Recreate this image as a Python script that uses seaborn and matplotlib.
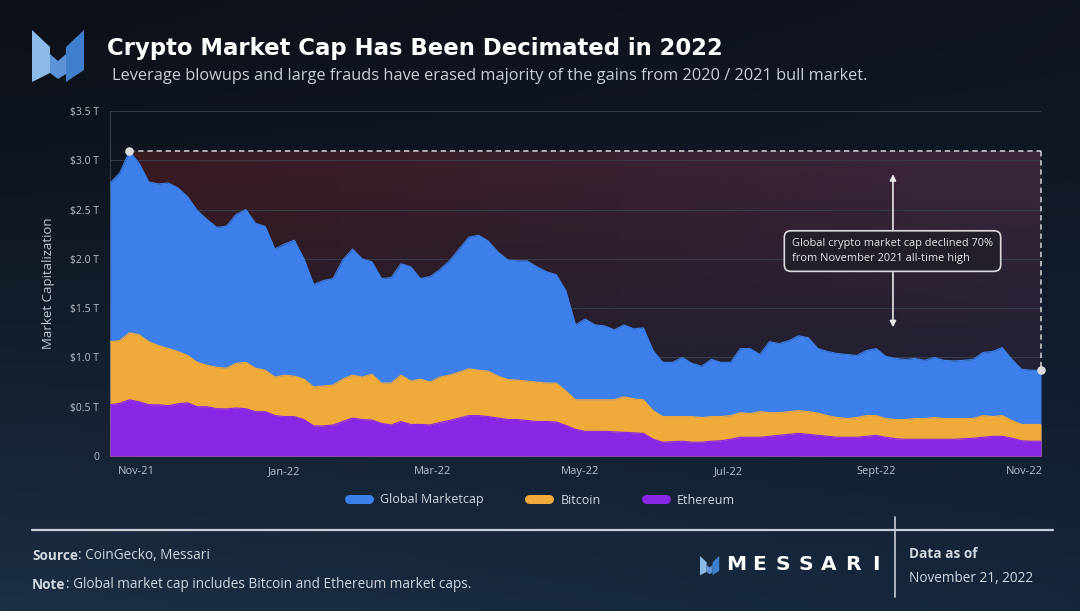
import numpy as np
import pandas as pd
import matplotlib
matplotlib.use("Agg")
import matplotlib.pyplot as plt
import matplotlib.dates as mdates
from matplotlib.patches import Polygon
from matplotlib.lines import Line2D
import seaborn as sns

# ---------------- data (trillions USD, every 4 days from 2021-11-01) ----------------
start_date = "2021-11-01"
global_cap = [2.77, 2.87, 3.09, 2.97, 2.78, 2.76, 2.77, 2.72, 2.63, 2.49,
              2.40, 2.32, 2.33, 2.45, 2.50, 2.36, 2.33, 2.10, 2.15, 2.19,
              2.00, 1.74, 1.78, 1.80, 1.99, 2.10, 2.00, 1.97, 1.80, 1.81,
              1.95, 1.92, 1.80, 1.82, 1.89, 1.98, 2.10, 2.22, 2.24, 2.18,
              2.07, 1.99, 1.98, 1.98, 1.92, 1.87, 1.84, 1.68, 1.33, 1.39,
              1.33, 1.32, 1.28, 1.33, 1.29, 1.30, 1.07, 0.95, 0.95, 1.00,
              0.94, 0.91, 0.98, 0.95, 0.95, 1.09, 1.09, 1.03, 1.16, 1.14,
              1.17, 1.22, 1.20, 1.09, 1.06, 1.04, 1.03, 1.02, 1.07, 1.09,
              1.01, 0.99, 0.98, 0.99, 0.97, 1.00, 0.97, 0.965, 0.97, 0.98,
              1.05, 1.06, 1.10, 0.98, 0.88, 0.87, 0.87]
bitcoin = [1.16, 1.17, 1.25, 1.23, 1.16, 1.12, 1.09, 1.06, 1.02, 0.95,
           0.92, 0.90, 0.89, 0.94, 0.95, 0.89, 0.87, 0.80, 0.82, 0.81,
           0.78, 0.70, 0.71, 0.72, 0.78, 0.82, 0.80, 0.83, 0.74, 0.74,
           0.82, 0.76, 0.78, 0.75, 0.80, 0.82, 0.85, 0.885, 0.87, 0.86,
           0.81, 0.775, 0.77, 0.76, 0.75, 0.74, 0.74, 0.66, 0.57, 0.57,
           0.57, 0.57, 0.57, 0.60, 0.58, 0.57, 0.46, 0.40, 0.40, 0.40,
           0.40, 0.39, 0.40, 0.40, 0.41, 0.44, 0.43, 0.45, 0.44, 0.44,
           0.45, 0.46, 0.45, 0.435, 0.41, 0.39, 0.38, 0.39, 0.41, 0.41,
           0.38, 0.37, 0.37, 0.38, 0.38, 0.39, 0.38, 0.38, 0.38, 0.38,
           0.41, 0.40, 0.41, 0.36, 0.32, 0.32, 0.32]
ethereum = [0.52, 0.535, 0.57, 0.55, 0.52, 0.52, 0.51, 0.53, 0.54, 0.50,
            0.50, 0.48, 0.478, 0.487, 0.48, 0.45, 0.45, 0.41, 0.40, 0.40,
            0.37, 0.305, 0.305, 0.315, 0.35, 0.385, 0.37, 0.365, 0.33, 0.315,
            0.35, 0.32, 0.32, 0.315, 0.34, 0.36, 0.385, 0.41, 0.41, 0.40,
            0.385, 0.37, 0.37, 0.36, 0.35, 0.35, 0.345, 0.31, 0.27, 0.25,
            0.25, 0.25, 0.245, 0.24, 0.235, 0.23, 0.17, 0.14, 0.145, 0.15,
            0.14, 0.14, 0.15, 0.155, 0.17, 0.19, 0.19, 0.19, 0.20, 0.21,
            0.22, 0.23, 0.22, 0.21, 0.20, 0.19, 0.19, 0.19, 0.20, 0.21,
            0.19, 0.175, 0.17, 0.17, 0.17, 0.17, 0.17, 0.17, 0.175, 0.18,
            0.19, 0.20, 0.20, 0.18, 0.155, 0.15, 0.15]
series_names = ["Global Marketcap", "Bitcoin", "Ethereum"]
ytick_values = [0, 0.5, 1.0, 1.5, 2.0, 2.5, 3.0, 3.5]
ytick_labels = ["0", "$0.5 T", "$1.0 T", "$1.5 T", "$2.0 T", "$2.5 T", "$3.0 T", "$3.5 T"]
xtick_dates = ["2021-11-12", "2022-01-12", "2022-03-14", "2022-05-14",
               "2022-07-14", "2022-09-13", "2022-11-13"]
xtick_labels = ["Nov-21", "Jan-22", "Mar-22", "May-22", "Jul-22", "Sept-22", "Nov-22"]

dates = pd.date_range(start_date, periods=len(global_cap), freq="4D")
df = pd.DataFrame({"date": dates, "global": global_cap, "btc": bitcoin, "eth": ethereum})

# ---------------- style ----------------
sns.set_theme(style="dark")
plt.rcParams["font.family"] = ["Open Sans", "DejaVu Sans"]

BLUE = "#3d80eb"
ORANGE = "#f0aa3a"
PURPLE = "#8a26e6"
TXT = "#b9bec8"

W, H = 1080, 611
fig = plt.figure(figsize=(W / 100, H / 100), dpi=100)


def fx(x):
    return x / W


def fy(y):
    return 1 - y / H


# background gradient
bg = fig.add_axes([0, 0, 1, 1], zorder=-10)
gy, gx = np.mgrid[0:1:200j, 0:1:300j]
tl = np.array([0x0c, 0x10, 0x18]) / 255
tr = np.array([0x10, 0x15, 0x21]) / 255
bl = np.array([0x1c, 0x2f, 0x45]) / 255
br = np.array([0x15, 0x26, 0x3c]) / 255
wy = (gy ** 1.3)[..., None]
wx = gx[..., None]
img = (tl * (1 - wx) + tr * wx) * (1 - wy) + (bl * (1 - wx) + br * wx) * wy
bg.imshow(img, aspect="auto", extent=[0, 1, 0, 1], origin="upper")
bg.set_axis_off()

# main axes
ax = fig.add_axes([fx(110), fy(456), fx(1041) - fx(110), fy(111) - fy(456)])
ax.set_facecolor("none")

ath_i = int(np.argmax(df["global"].values))
ath_val = df["global"].iloc[ath_i]
ath_date = df["date"].iloc[ath_i]
end_date = df["date"].iloc[-1]
end_val = df["global"].iloc[-1]

# reddish gradient shading between ATH and current
ny, nx = 200, 300
yy, xx = np.mgrid[0:1:complex(0, ny), 0:1:complex(0, nx)]
left_c = np.array([0x3c, 0x1b, 0x22]) / 255
right_c = np.array([0x3c, 0x28, 0x3e]) / 255
rgb = left_c * (1 - xx[..., None]) + right_c * xx[..., None]
alpha = np.clip(0.25 + 0.75 * yy ** 1.3, 0, 1)
rgba = np.dstack([rgb, alpha])
ax.imshow(rgba, origin="lower", aspect="auto", zorder=0.2,
          extent=[mdates.date2num(ath_date), mdates.date2num(end_date), 0, ath_val])

# areas
for col, color, z in [("global", BLUE, 2), ("btc", ORANGE, 3), ("eth", PURPLE, 4)]:
    ax.fill_between(df["date"], df[col], color=color, lw=0, zorder=z)
    sns.lineplot(data=df, x="date", y=col, color=color, lw=0.8, ax=ax, zorder=z + 0.1)

# ATH markers
ax.plot([ath_date, end_date], [ath_val, ath_val], ls=(0, (3.5, 2.5)), color="#d6d6d6",
        lw=1.1, zorder=6, clip_on=False)
ax.plot([end_date, end_date], [ath_val, end_val], ls=(0, (3.5, 2.5)), color="#d6d6d6",
        lw=1.1, zorder=6, clip_on=False)
ax.scatter([ath_date, end_date], [ath_val, end_val], s=38, color="#dcdcdc", zorder=7,
           clip_on=False, linewidths=0)

# axes
ax.set_xlim(df["date"].iloc[0], end_date)
ax.set_ylim(0, 3.5)
ax.set_yticks(ytick_values)
ax.set_yticklabels(ytick_labels)
ax.set_xticks(pd.to_datetime(xtick_dates))
ax.set_xticklabels(xtick_labels)
ax.tick_params(axis="both", colors=TXT, labelsize=7.5, length=0)
ax.tick_params(axis="y", pad=8)
ax.tick_params(axis="x", pad=7, labelsize=8)
ax.set_axisbelow(True)
ax.yaxis.grid(True, color="#363c4a", lw=0.8)
ax.xaxis.grid(False)
for s in ["top", "right", "bottom"]:
    ax.spines[s].set_visible(False)
ax.spines["left"].set_color("#363c4a")
ax.spines["left"].set_linewidth(0.8)
ax.spines["left"].set_zorder(0.5)
ax.set_xlabel("")
ax.set_ylabel("Market Capitalization", color="#c3c7cf", fontsize=9.5, labelpad=11)

# annotation
ax.annotate("", xy=(0.841, 0.825), xytext=(0.841, 0.594), xycoords="axes fraction",
            arrowprops=dict(arrowstyle="-|>", color="#e6e6e6", lw=1.2, mutation_scale=9),
            zorder=6)
ax.annotate("", xy=(0.841, 0.365), xytext=(0.841, 0.594), xycoords="axes fraction",
            arrowprops=dict(arrowstyle="-|>", color="#e6e6e6", lw=1.2, mutation_scale=9),
            zorder=6)
ax.text(0.8405, 0.594, "Global crypto market cap declined 70%\nfrom November 2021 all-time high",
        transform=ax.transAxes, ha="center", va="center", multialignment="left",
        fontsize=7.9, color="#e8e8e8", linespacing=1.4, zorder=8,
        bbox=dict(boxstyle="round,pad=0.7,rounding_size=0.6", fc="#231e28",
                  ec="#dcdcdc", lw=1.2))

# legend
handles = [Line2D([0], [0], color=c, lw=6.5, solid_capstyle="round")
           for c in (BLUE, ORANGE, PURPLE)]
fig.legend(handles, series_names, loc="center", bbox_to_anchor=(fx(542), fy(500)),
           ncol=3, frameon=False, fontsize=9, labelcolor="#d3d7de",
           handlelength=1.6, handletextpad=0.9, columnspacing=3.6)

# title & subtitle
fig.text(fx(107), fy(55), "Crypto Market Cap Has Been Decimated in 2022", fontsize=16.4,
         fontweight="bold", color="white", va="baseline", family=["DejaVu Sans"])
fig.text(fx(112), fy(80),
         "Leverage blowups and large frauds have erased majority of the gains from 2020 / 2021 bull market.",
         fontsize=11.8, color="#c9cdd5", va="baseline")


# logos
def logo(x0, y0, s):
    pieces = [
        ([(0, 0), (18, 17), (18, 43), (0, 52)], "#8cbbe8"),
        ([(18, 24), (26, 31), (34, 24), (34, 44), (26, 49), (18, 43)], "#5b93d6"),
        ([(52, 0), (52, 40), (34, 52), (34, 17)], "#3f7fcc"),
    ]
    for pts, c in pieces:
        xy = [(fx(x0 + px * s), fy(y0 + py * s)) for px, py in pts]
        fig.add_artist(Polygon(xy, closed=True, fc=c, ec="none",
                               transform=fig.transFigure))


logo(32, 30, 1.0)
logo(700, 556, 0.37)

# footer
fig.add_artist(Line2D([fx(32), fx(1053)], [fy(530), fy(530)], color="#c9ced6", lw=1.6,
                      transform=fig.transFigure))
fig.add_artist(Line2D([fx(895), fx(895)], [fy(517), fy(597)], color="#c9ced6", lw=1.2,
                      transform=fig.transFigure))
FT = "#d3d7de"
FS = 9.8
t1 = fig.text(fx(32), fy(563), "Source", fontsize=FS, fontweight="bold", color=FT, va="bottom")
ax.annotate(": CoinGecko, Messari", xy=(1, 0), xycoords=t1, va="bottom", ha="left",
            fontsize=FS, color=FT)
t2 = fig.text(fx(32), fy(592), "Note", fontsize=FS, fontweight="bold", color=FT, va="bottom")
ax.annotate(": Global market cap includes Bitcoin and Ethereum market caps.", xy=(1, 0),
            xycoords=t2, va="bottom", ha="left", fontsize=FS, color=FT)
for i, ch in enumerate("MESSARI"):
    fig.text(fx(736 + i * 23.3), fy(565), ch, fontsize=14.5, fontweight="bold",
             color="white", ha="center", va="center", family=["DejaVu Sans"])
fig.text(fx(909), fy(554), "Data as of", fontsize=FS, fontweight="bold", color=FT, va="center")
fig.text(fx(909), fy(579), "November 21, 2022", fontsize=FS, color=FT, va="center")

fig.savefig("out.png", dpi=100, facecolor=fig.get_facecolor())
